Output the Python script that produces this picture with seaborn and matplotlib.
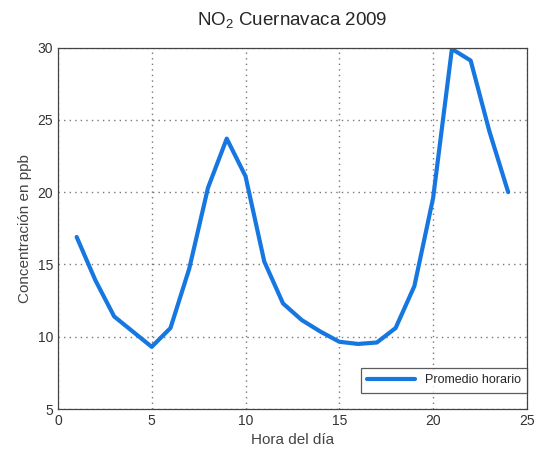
import numpy as np
import pandas as pd
import seaborn as sns
import matplotlib
matplotlib.use('Agg')
import matplotlib.pyplot as plt

# promedio horario de NO2 (ppb)
horas = list(range(1, 25))
no2 = [16.9, 13.9, 11.4, 10.35, 9.3, 10.6, 14.7, 20.3, 23.7, 21.1, 15.2, 12.3,
       11.15, 10.35, 9.65, 9.5, 9.6, 10.6, 13.5, 19.6, 29.9, 29.1, 24.2, 20.0]

df = pd.DataFrame({'hora': horas, 'no2': no2})

sns.set_style('white')
plt.rcParams['font.family'] = ['Liberation Sans', 'DejaVu Sans']

fig = plt.figure(figsize=(5.41, 4.57), dpi=100)
ax = fig.add_axes([0.107, 0.105, 0.867, 0.791])

sns.lineplot(data=df, x='hora', y='no2', ax=ax, color='#1677e0', linewidth=3,
             label='Promedio horario')

ax.set_xlim(0, 25)
ax.set_ylim(5, 30)
ax.set_xticks([0, 5, 10, 15, 20, 25])
ax.set_yticks([5, 10, 15, 20, 25, 30])
ax.tick_params(direction='in', length=4, labelsize=10, colors='#333333')
ax.grid(True, linestyle=(0, (1, 3)), color='#777777', linewidth=1.0)
for s in ax.spines.values():
    s.set_color('#444444')
    s.set_linewidth(0.9)

ax.set_xlabel('Hora del día', fontsize=11, color='#444444')
ax.set_ylabel('Concentración en ppb', fontsize=11, color='#444444')
ax.set_title('NO$_\\mathregular{2}$ Cuernavaca 2009', fontsize=13.5, pad=16)

leg = ax.legend(loc='lower right', bbox_to_anchor=(1.0, 0.045), borderaxespad=0,
                fontsize=9, frameon=True, fancybox=False, handlelength=3.8,
                borderpad=0.5)
leg.get_frame().set_edgecolor('#333333')
leg.get_frame().set_linewidth(0.9)

fig.savefig('out.png', dpi=100)
